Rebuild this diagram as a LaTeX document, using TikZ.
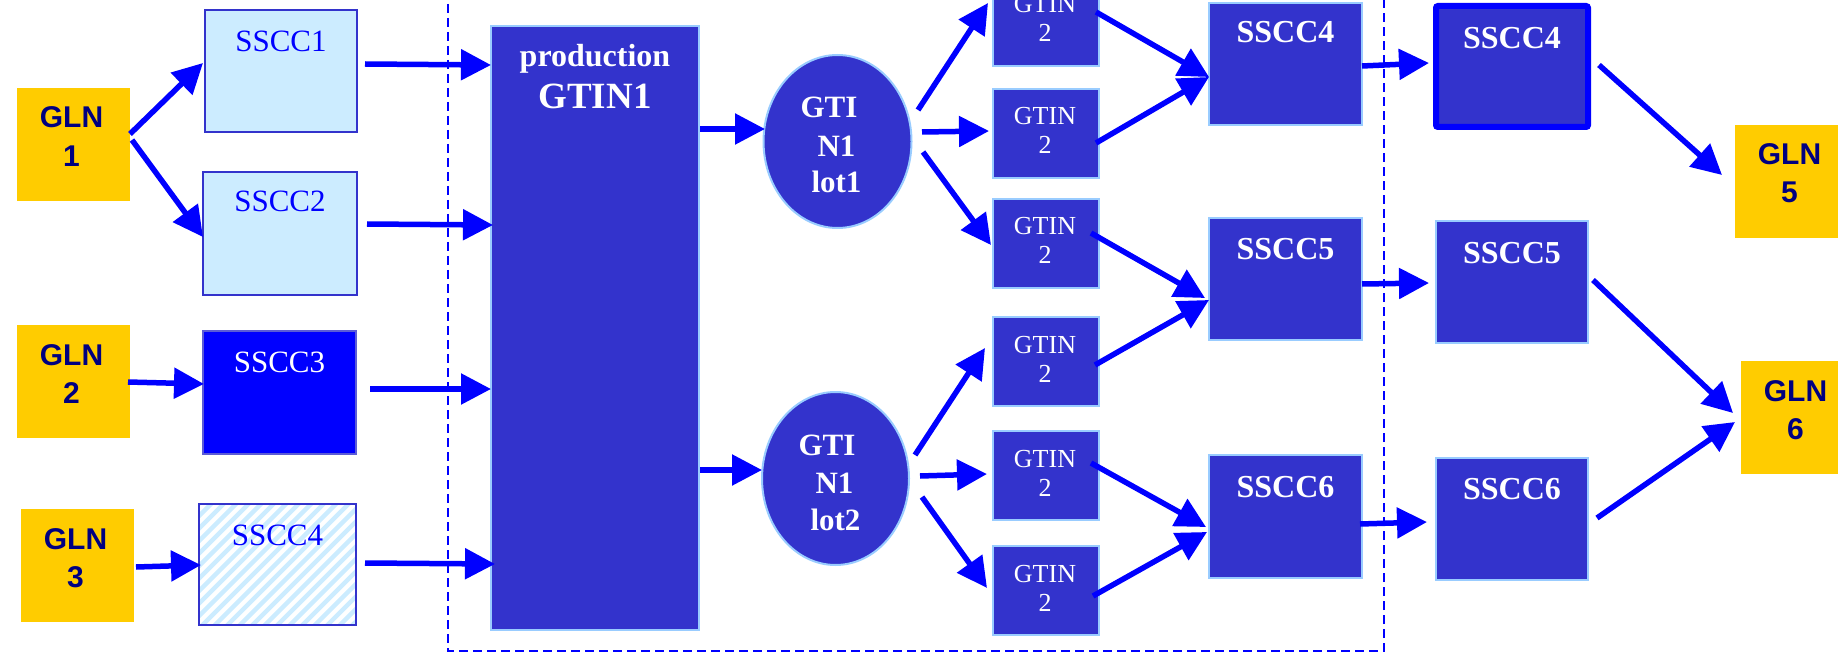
\documentclass[tikz,border=0pt]{standalone}
\usepackage{fontspec}
\setmainfont{Liberation Serif}
\newfontfamily\glnfont{Liberation Sans}
\usetikzlibrary{arrows.meta,shapes.geometric}

\definecolor{gold}{HTML}{FFCC00}
\definecolor{navy}{HTML}{000080}
\definecolor{boxblue}{HTML}{3333CC}
\definecolor{edgeblue}{HTML}{99CCFF}
\definecolor{pale}{HTML}{CCECFF}
\definecolor{pure}{HTML}{0000FF}

\tikzset{
  box/.style={rectangle, inner sep=0pt, outer sep=0pt},
  gln/.style={box, fill=gold, minimum width=113pt, minimum height=113pt},
  glntext/.style={inner sep=0pt, anchor=base, text=navy,
    font=\glnfont\bfseries\fontsize{30pt}{36pt}\selectfont},
  lightbox/.style={box, fill=pale, draw=boxblue, line width=1.5pt},
  bluebox/.style={box, fill=pure, draw=boxblue!80!white, line width=1.5pt},
  hatchbox/.style={box, draw=boxblue, line width=1.5pt},
  stripe/.style={draw=pale, line width=4.5pt},
  darkbox/.style={box, fill=boxblue, draw=edgeblue, line width=2pt},
  boldbox/.style={box, fill=boxblue, draw=pure, line width=6pt, rounded corners=2pt},
  lotnode/.style={ellipse, inner sep=0pt, outer sep=0pt, fill=boxblue, draw=edgeblue,
    line width=2pt, minimum width=148pt, minimum height=173pt},
  plaintext/.style={inner sep=0pt, anchor=base, font=\fontsize{31pt}{36pt}\selectfont},
  gtintext/.style={inner sep=0pt, anchor=base, text=white, font=\fontsize{26pt}{30pt}\selectfont},
  boldtext/.style={inner sep=0pt, anchor=base, text=white, font=\bfseries\fontsize{32pt}{36pt}\selectfont},
  lottext/.style={inner sep=0pt, anchor=base, text=white, font=\bfseries\fontsize{31pt}{36pt}\selectfont},
  arr/.style={draw=pure, line width=5.5pt, -{Triangle[length=30pt,width=30pt]}},
  dashbox/.style={draw=pure, line width=2pt, dash pattern=on 9pt off 5pt}
}

\begin{document}
\begin{tikzpicture}[x=1pt, y=-1pt]
\useasboundingbox (0,0) rectangle (1838,652);
\clip (0,0) rectangle (1838,652);

% processing area
\draw[dashbox] (448,-10) -- (448,651) -- (1384,651) -- (1384,-10);

% locations
\node[gln] (g1) at (73.5,144.5) {};
\node[glntext] (g1a) at (71.5,128) {GLN};
\node[glntext] (g1b) at (71.5,167) {1};
\node[gln] (g2) at (73.5,381.5) {};
\node[glntext] (g2a) at (71.5,365) {GLN};
\node[glntext] (g2b) at (71.5,403) {2};
\node[gln] (g3) at (77.5,565.5) {};
\node[glntext] (g3a) at (75.5,549) {GLN};
\node[glntext] (g3b) at (75.5,587) {3};
\node[gln] (g5) at (1791.5,181.5) {};
\node[glntext] (g5a) at (1789.5,165) {GLN};
\node[glntext] (g5b) at (1789.5,203) {5};
\node[gln] (g6) at (1797.5,417.5) {};
\node[glntext] (g6a) at (1795.5,401) {GLN};
\node[glntext] (g6b) at (1795.5,439) {6};

% incoming units
\node[lightbox, minimum width=152pt, minimum height=122pt] (s1) at (281,71) {};
\node[plaintext, text=pure] (s1t) at (281,52) {SSCC1};
\node[lightbox, minimum width=154pt, minimum height=123pt] (s2) at (280,233.5) {};
\node[plaintext, text=pure] (s2t) at (280,212) {SSCC2};
\node[bluebox, minimum width=153pt, minimum height=123pt] (s3) at (279.5,392.5) {};
\node[plaintext, text=white] (s3t) at (279.5,372) {SSCC3};
\begin{scope}
  \clip (199,504) rectangle (356,625);
  \foreach \i in {60,72.5,...,360} \draw[stripe] (\i,630) -- ++(131,-131);
\end{scope}
\node[hatchbox, minimum width=157pt, minimum height=121pt] (s4) at (277.5,564.5) {};
\node[plaintext, text=pure] (s4t) at (277.5,545) {SSCC4};

% production
\node[darkbox, minimum width=208pt, minimum height=604pt] (prod) at (595,328) {};
\node[boldtext] (prodt) at (595,67) {production};
\node[boldtext, font=\bfseries\fontsize{37pt}{40pt}\selectfont] (prodg) at (595,109) {GTIN1};

% lots
\node[lotnode] (e1) at (837.5,141.5) {};
\node[lottext] (e1a) at (829,118) {GTI};
\node[lottext] (e1b) at (836.5,157) {N1};
\node[lottext] (e1c) at (836.5,193) {lot1};
\node[lotnode, minimum width=147pt] (e2) at (835.5,478.5) {};
\node[lottext] (e2a) at (827,455) {GTI};
\node[lottext] (e2b) at (834.5,493) {N1};
\node[lottext] (e2c) at (835.5,530) {lot2};

% trade items
\foreach \n/\t in {ga/-23, gb/89, gc/199, gd/317, ge/431, gf/546} {
  \node[darkbox, minimum width=106pt, minimum height=89pt] (\n) at (1046,\t+44.5) {};
  \node[gtintext] (\n a) at (1045,\t+36) {GTIN};
  \node[gtintext] (\n b) at (1045,\t+65) {2};
}

% outgoing units
\node[darkbox, minimum width=153pt, minimum height=122pt] (m4) at (1285.5,64) {};
\node[boldtext] (m4t) at (1285.5,43) {SSCC4};
\node[darkbox, minimum width=153pt, minimum height=122pt] (m5) at (1285.5,279) {};
\node[boldtext] (m5t) at (1285.5,260) {SSCC5};
\node[darkbox, minimum width=153pt, minimum height=123pt] (m6) at (1285.5,516.5) {};
\node[boldtext] (m6t) at (1285.5,497) {SSCC6};

\node[boldbox, minimum width=152pt, minimum height=121pt] (r4) at (1512,66.5) {};
\node[boldtext] (r4t) at (1512,49) {SSCC4};
\node[darkbox, minimum width=152pt, minimum height=122pt] (r5) at (1512,282) {};
\node[boldtext] (r5t) at (1512,263) {SSCC5};
\node[darkbox, minimum width=152pt, minimum height=122pt] (r6) at (1512,519) {};
\node[boldtext] (r6t) at (1512,499) {SSCC6};

% flows
\draw[arr] ([shift={(0,-10.5)}]g1.east) -- ([shift={(-2,-8)}]s1.west);
\draw[arr] ([shift={(2,-4.5)}]g1.east) -- ([shift={(0,3.5)}]s2.west);
\draw[arr] ([shift={(-2,0.5)}]g2.east) -- ([shift={(1,-8.5)}]s3.west);
\draw[arr] ([shift={(2,1.5)}]g3.east) -- ([shift={(2,0.5)}]s4.west);

\draw[arr] ([shift={(8,-7)}]s1.east) -- ([shift={(0,-263)}]prod.west);
\draw[arr] ([shift={(10,-9.5)}]s2.east) -- ([shift={(2,-103)}]prod.west);
\draw[arr] ([shift={(14,-3.5)}]s3.east) -- ([shift={(0,61)}]prod.west);
\draw[arr] ([shift={(9,-1.5)}]s4.east) -- ([shift={(4,236)}]prod.west);

\draw[arr] ([shift={(1,-199)}]prod.east) -- ([shift={(1.5,-12.5)}]e1.west);
\draw[arr] ([shift={(1,142)}]prod.east) -- ([shift={(0,-8.5)}]e2.west);

\draw[arr] ([shift={(80.5,-31.5)}]e1.center) -- ([shift={(-5,-18.5)}]ga.west);
\draw[arr] ([shift={(84.5,-9.5)}]e1.center) -- ([shift={(-4,-2.5)}]gb.west);
\draw[arr] ([shift={(85.5,10.5)}]e1.center) -- ([shift={(-2,1.5)}]gc.west);
\draw[arr] ([shift={(79.5,-23.5)}]e2.center) -- ([shift={(-8,-13.5)}]gd.west);
\draw[arr] ([shift={(84.5,-2.5)}]e2.center) -- ([shift={(-6,-1.5)}]ge.west);
\draw[arr] ([shift={(86.5,18.5)}]e2.center) -- ([shift={(-6,-2.5)}]gf.west);

\draw[arr] ([shift={(-3,-9.5)}]ga.east) -- ([shift={(0,13)}]m4.west);
\draw[arr] ([shift={(-3,9.5)}]gb.east) -- ([shift={(0,13)}]m4.west);
\draw[arr] ([shift={(-8,-10.5)}]gc.east) -- ([shift={(-4,19)}]m5.west);
\draw[arr] ([shift={(-4,3.5)}]gd.east) -- ([shift={(0,21)}]m5.west);
\draw[arr] ([shift={(-8,-12.5)}]ge.east) -- ([shift={(-3,10.5)}]m6.west);
\draw[arr] ([shift={(-6,5.5)}]gf.east) -- ([shift={(-2,15.5)}]m6.west);

\draw[arr] ([shift={(0,2)}]m4.east) -- ([shift={(-7,-3.5)}]r4.west);
\draw[arr] ([shift={(0,5)}]m5.east) -- ([shift={(-7,1)}]r5.west);
\draw[arr] ([shift={(-2,7.5)}]m6.east) -- ([shift={(-9,3)}]r6.west);

\draw[arr] ([shift={(11,-1.5)}]r4.east) -- ([shift={(-13,-6.5)}]g5.west);
\draw[arr] ([shift={(5,-2)}]r5.east) -- ([shift={(-8,-4.5)}]g6.west);
\draw[arr] ([shift={(9,-1)}]r6.east) -- ([shift={(-6,4.5)}]g6.west);
\end{tikzpicture}
\end{document}
